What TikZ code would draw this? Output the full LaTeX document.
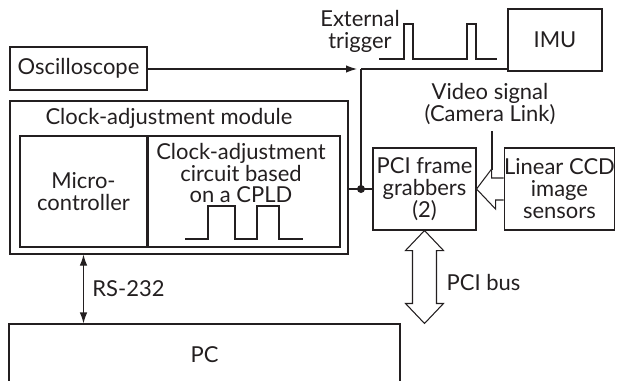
\documentclass[tikz,border=0pt]{standalone}
\usepackage{fontspec}
\setmainfont{Lato}
\usepackage{xcolor}
\usetikzlibrary{arrows.meta, positioning, calc}
\definecolor{ink}{HTML}{231F20}
\tikzset{
  box/.style={rectangle, draw=ink, line width=0.6pt, align=center,
    text=ink, inner sep=0pt, font=\fontsize{12.5}{12.5}\selectfont},
  txt/.style={align=center, text=ink, inner sep=0pt,
    font=\fontsize{12.5}{12.5}\selectfont},
  wire/.style={line width=0.6pt, draw=ink},
  ar/.style={-{Latex[length=2.2mm,width=1.5mm]}, line width=0.6pt, draw=ink},
  dar/.style={{Latex[length=2.2mm,width=1.5mm]}-{Latex[length=2.2mm,width=1.5mm]},
    line width=0.6pt, draw=ink},
  pipe/.style={line width=0.6pt, draw=ink, fill=white, line join=miter},
}

\begin{document}
\begin{tikzpicture}

  \useasboundingbox (0,0) rectangle (12.44,-7.62);

  % --- Boxes ---
  \node[box, minimum width=2.74cm, minimum height=0.86cm] (osc) at (1.57,-1.37) {Oscilloscope};
  \node[box, minimum width=1.88cm, minimum height=1.24cm] (imu) at (11.10,-0.80) {IMU};
  \node[box, minimum width=6.76cm, minimum height=3.06cm] (module) at (3.58,-3.55) {};
  \node[txt] (modtitle) at (3.38,-2.36) {Clock-adjustment module};
  \node[box, minimum width=2.54cm, minimum height=2.22cm] (micro) at (1.67,-3.83) {Micro-\\controller};
  \node[box, minimum width=3.84cm, minimum height=2.22cm] (cpld) at (4.88,-3.83) {};
  \node[txt] (cpldtxt) at (4.82,-3.46) {Clock-adjustment\\circuit based\\on a CPLD};
  \node[box, minimum width=2.06cm, minimum height=1.64cm] (pci) at (8.49,-3.78) {PCI frame\\grabbers\\(2)};
  \node[box, minimum width=2.10cm, minimum height=1.64cm] (ccd) at (11.19,-3.78) {Linear CCD\\image\\sensors};
  \node[box, minimum width=7.82cm, minimum height=1.24cm] (pc) at (4.09,-7.10) {PC};

  % --- Labels ---
  \node[txt] (trig) at (7.20,-0.62) {External\\trigger};
  \node[txt] (video) at (9.80,-2.08) {Video signal\\(Camera Link)};
  \node[txt] (rs) at (2.57,-5.78) {RS-232};
  \node[txt] (bus) at (9.67,-5.64) {PCI bus};

  % --- Trigger / oscilloscope wiring ---
  \coordinate (corner) at (7.22,-1.38);
  \coordinate (joint) at (corner |- pci.west);
  \draw[ar, shorten >=0.08cm] (osc.east |- corner) -- (corner);
  \draw[wire] (corner) -- (corner -| imu.west);
  \draw[wire] (corner) -- (joint);
  \draw[wire] (module.east |- pci.west) -- (pci.west);
  \fill[ink] (joint) circle (0.08);

  % --- Pulse trains ---
  \draw[wire] (7.58,-1.18) -- (8.08,-1.18) -- (8.08,-0.48) -- (8.26,-0.48) -- (8.26,-1.18)
    -- (9.34,-1.18) -- (9.34,-0.48) -- (9.52,-0.48) -- (9.52,-1.18) -- (9.94,-1.18);
  \draw[wire] (3.70,-4.78) -- (4.16,-4.78) -- (4.16,-4.12) -- (4.70,-4.12) -- (4.70,-4.78)
    -- (5.14,-4.78) -- (5.14,-4.12) -- (5.58,-4.12) -- (5.58,-4.78) -- (6.06,-4.78);

  % --- RS-232 ---
  \draw[dar] (micro.south |- module.south) -- (micro.south |- pc.north);

  % --- Video signal (hollow arrow) ---
  \draw[pipe] ($(ccd.west)+(0,0.22)$) -- ++(-0.24,0) -- ++(0,0.18) -- (pci.east)
    -- ++(0.38,-0.4) -- ++(0,0.18) -- ($(ccd.west)+(0,-0.22)$);
  \coordinate (vidtip) at (9.84,-3.40);
  \draw[wire] (video.south -| vidtip) ++(0,-0.12) -- (vidtip);

  % --- PCI bus (hollow double arrow) ---
  \draw[pipe] (pci.south) -- ++(0.38,-0.4) -- ++(-0.14,0)
    -- ($(pci.south |- pc.north)+(0.24,0.4)$) -- ++(0.14,0) -- (pci.south |- pc.north)
    -- ++(-0.38,0.4) -- ++(0.14,0) -- ($(pci.south)+(-0.24,-0.4)$) -- ++(-0.14,0) -- cycle;

\end{tikzpicture}
\end{document}
